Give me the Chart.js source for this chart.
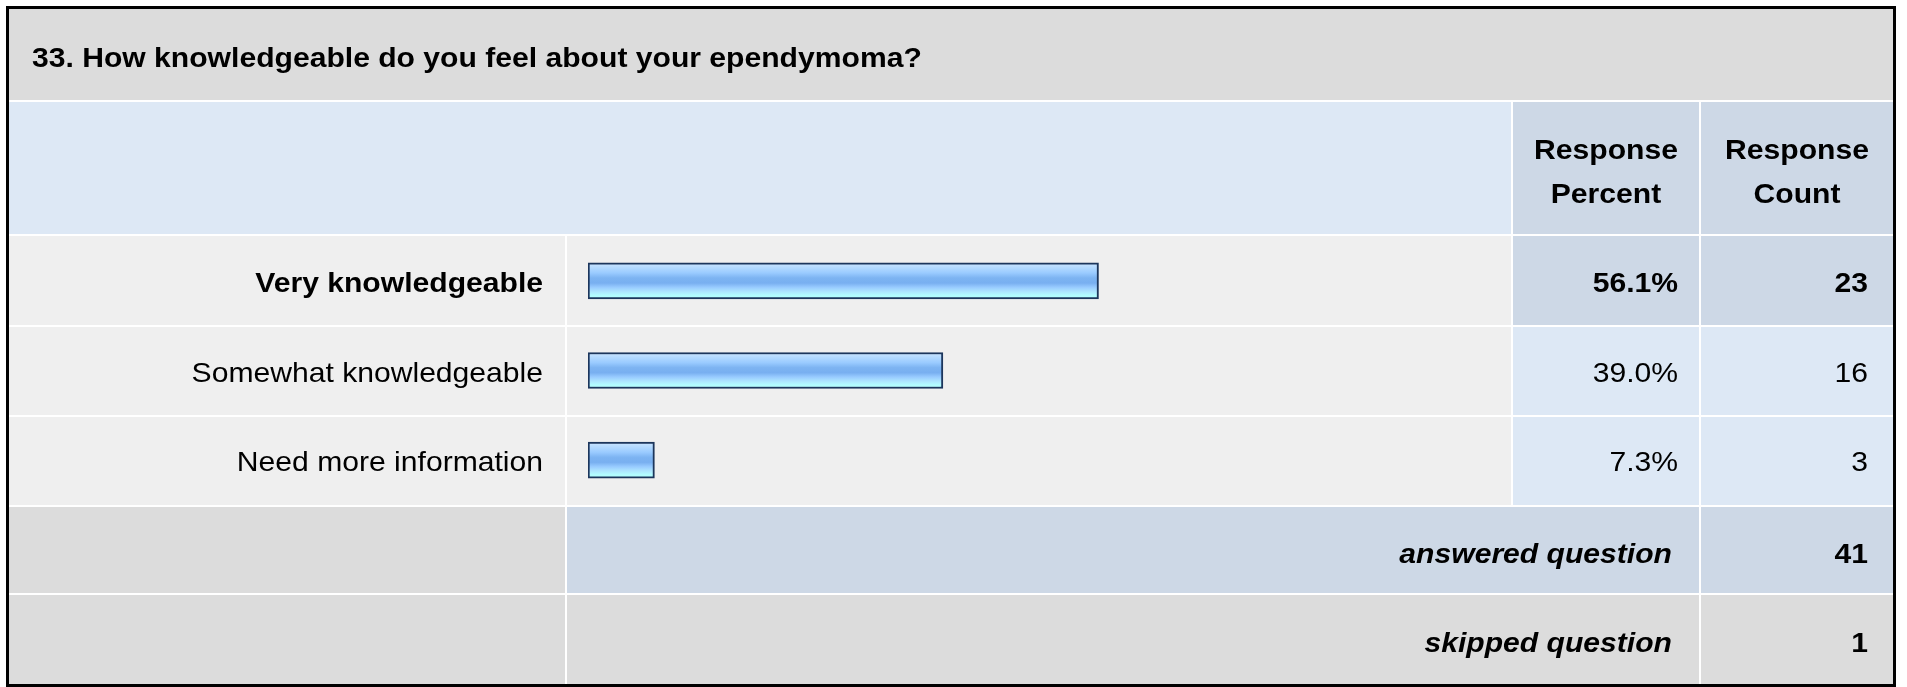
<!DOCTYPE html>
<html>
<head>
<meta charset="utf-8">
<script src="https://cdn.jsdelivr.net/npm/chart.js@4/dist/chart.umd.min.js"></script>
<style>
    body { margin: 0; background: #ffffff; }
    canvas { display: block; }
</style>
</head>
<body>
<canvas id="myChart" width="1907" height="687"></canvas>
<script>
// Dados da pergunta 33
let questionTitle = "33. How knowledgeable do you feel about your ependymoma?";
let answerLabels = ["Very knowledgeable", "Somewhat knowledgeable", "Need more information"];
let responsePercent = [56.1, 39.0, 7.3];
let responseCount = [23, 16, 3];
let headerPercent = ["Response", "Percent"];
let headerCount = ["Response", "Count"];
let answeredCount = 41;
let skippedCount = 1;

// Colunas e linhas da tabela (pixels)
let colLabel = [9, 565];
let colBar = [567, 1511];
let colPct = [1513, 1699];
let colCount = [1701, 1893];
let rowTitle = [9, 100];
let rowHeader = [102, 234];
let rowData = [[236, 325], [327, 415], [417, 505]];
let rowAnswered = [507, 593];
let rowSkipped = [595, 684];

const GRAY = "#dcdcdc";
const LIGHT = "#efefef";
const BLUE = "#dde8f5";
const BLUE_DARK = "#cdd8e6";
const FONT = "'Liberation Sans', Arial, sans-serif";
const STRETCH = 1.075;

var myChart;

function cell(ctx, cols, rows, color) {
    ctx.fillStyle = color;
    ctx.fillRect(cols[0], rows[0], cols[1] - cols[0], rows[1] - rows[0]);
}

function text(ctx, str, x, y, align, style) {
    ctx.save();
    ctx.font = style + " 28px " + FONT;
    ctx.fillStyle = "#000000";
    ctx.textAlign = align;
    ctx.textBaseline = "alphabetic";
    ctx.translate(x, y);
    ctx.scale(STRETCH, 1);
    ctx.fillText(str, 0, 0);
    ctx.restore();
}

// Desenha o fundo da tabela e os textos em volta das barras
const tablePlugin = {
    id: "surveyTable",
    beforeDraw(chart) {
        const ctx = chart.ctx;
        ctx.save();
        ctx.fillStyle = "#ffffff";
        ctx.fillRect(0, 0, chart.width, chart.height);

        ctx.fillStyle = "#000000";
        ctx.fillRect(6, 6, 1890, 681);
        ctx.fillStyle = "#ffffff";
        ctx.fillRect(9, 9, 1884, 675);

        cell(ctx, [9, 1893], rowTitle, GRAY);
        cell(ctx, [9, colBar[1]], rowHeader, BLUE);
        cell(ctx, colPct, rowHeader, BLUE_DARK);
        cell(ctx, colCount, rowHeader, BLUE_DARK);

        rowData.forEach(function (r, i) {
            cell(ctx, colLabel, r, LIGHT);
            cell(ctx, colBar, r, LIGHT);
            cell(ctx, colPct, r, i === 0 ? BLUE_DARK : BLUE);
            cell(ctx, colCount, r, i === 0 ? BLUE_DARK : BLUE);
        });

        cell(ctx, colLabel, rowAnswered, GRAY);
        cell(ctx, [colBar[0], colPct[1]], rowAnswered, BLUE_DARK);
        cell(ctx, colCount, rowAnswered, BLUE_DARK);

        cell(ctx, colLabel, rowSkipped, GRAY);
        cell(ctx, [colBar[0], colPct[1]], rowSkipped, GRAY);
        cell(ctx, colCount, rowSkipped, GRAY);
        ctx.restore();
    },
    afterDraw(chart) {
        const ctx = chart.ctx;
        const yScale = chart.scales.y;

        text(ctx, questionTitle, 32, 67, "left", "bold");

        let pctCenter = (colPct[0] + colPct[1]) / 2;
        let countCenter = (colCount[0] + colCount[1]) / 2;
        text(ctx, headerPercent[0], pctCenter, 159, "center", "bold");
        text(ctx, headerPercent[1], pctCenter, 203, "center", "bold");
        text(ctx, headerCount[0], countCenter, 159, "center", "bold");
        text(ctx, headerCount[1], countCenter, 203, "center", "bold");

        answerLabels.forEach(function (label, i) {
            let y = yScale.getPixelForValue(i) + 11;
            let weight = i === 0 ? "bold" : "normal";
            text(ctx, label, 543, y, "right", weight);
            text(ctx, responsePercent[i].toFixed(1) + "%", 1678, y, "right", weight);
            text(ctx, String(responseCount[i]), 1868, y, "right", weight);
        });

        text(ctx, "answered question", 1672, 563, "right", "italic bold");
        text(ctx, String(answeredCount), 1868, 563, "right", "bold");
        text(ctx, "skipped question", 1672, 652, "right", "italic bold");
        text(ctx, String(skippedCount), 1868, 652, "right", "bold");
    }
};

// Gradiente listrado da barra, igual para todas
function barFill(context) {
    const chart = context.chart;
    if (!chart.chartArea) {
        return "#99ccff";
    }
    const y = chart.scales.y.getPixelForValue(context.dataIndex);
    const g = chart.ctx.createLinearGradient(0, y - 18, 0, y + 18);
    g.addColorStop(0, "#cde6ff");
    g.addColorStop(0.14, "#b2d9ff");
    g.addColorStop(0.28, "#9acbff");
    g.addColorStop(0.42, "#7db4f2");
    g.addColorStop(0.56, "#78aff0");
    g.addColorStop(0.68, "#98cbff");
    g.addColorStop(0.8, "#aee6ff");
    g.addColorStop(0.9, "#b2fcff");
    g.addColorStop(1, "#b2ffff");
    return g;
}

function createChart() {
    myChart = new Chart(document.getElementById("myChart"), {
        type: "bar",
        data: {
            labels: answerLabels,
            datasets: [
                {
                    label: "Response Percent",
                    data: responsePercent,
                    backgroundColor: barFill,
                    borderColor: "#1c365c",
                    borderWidth: 2,
                    borderSkipped: false,
                    barThickness: 36
                }
            ]
        },
        options: {
            indexAxis: "y",
            responsive: false,
            devicePixelRatio: 1,
            animation: false,
            layout: {
                padding: { left: 588, right: 409, top: 236, bottom: 182 }
            },
            scales: {
                x: { min: 0, max: 100, display: false },
                y: { display: false }
            },
            plugins: {
                legend: { display: false },
                tooltip: { enabled: false }
            }
        },
        plugins: [tablePlugin]
    });
}

createChart();
</script>
</body>
</html>
